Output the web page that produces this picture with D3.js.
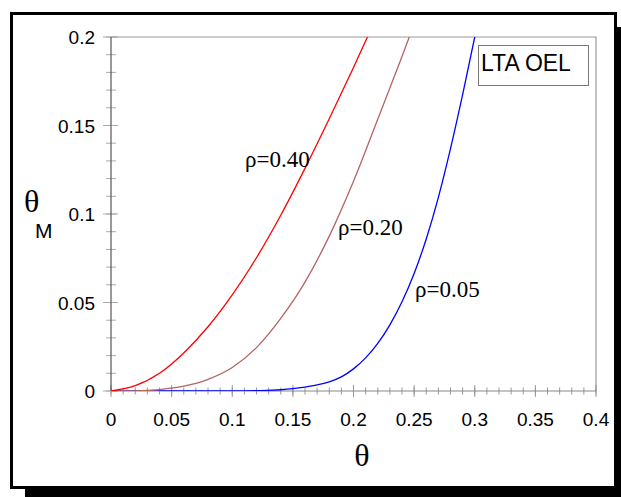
<!DOCTYPE html>
<meta charset="utf-8">
<script src="https://d3js.org/d3.v7.min.js"></script>
<style>
  body { margin: 0; background: #fff; }
</style>
<div id="my_dataviz"></div>
<script>

// curve data: theta vs theta_M for each rho
var thetaRed   = [0, 0.02, 0.04, 0.06, 0.08, 0.10, 0.12, 0.14, 0.16, 0.18, 0.20, 0.2115];
var thetaMRed  = [0, 0.003, 0.010, 0.0215, 0.0363, 0.0543, 0.0753, 0.0993, 0.1258, 0.1538, 0.1828, 0.2];

var thetaBrown  = [0, 0.02, 0.04, 0.06, 0.08, 0.10, 0.12, 0.14, 0.16, 0.18, 0.20, 0.22, 0.24, 0.246];
var thetaMBrown = [0, 0.0001, 0.0008, 0.0027, 0.0066, 0.0133, 0.0245, 0.041, 0.0615, 0.0875, 0.1185, 0.1535, 0.189, 0.2];

var thetaBlue  = [0, 0.10, 0.12, 0.14, 0.15, 0.16, 0.17, 0.18, 0.19, 0.20, 0.21, 0.22, 0.23, 0.24, 0.25, 0.26, 0.27, 0.28, 0.29, 0.30];
var thetaMBlue = [0, 0, 0.0002, 0.0007, 0.0013, 0.0022, 0.0034, 0.0052, 0.008, 0.0125, 0.0187, 0.0269, 0.0374, 0.0504, 0.0664, 0.0859, 0.1094, 0.1369, 0.1674, 0.2];

var seriesLabels = ["\u03c1=0.40", "\u03c1=0.20", "\u03c1=0.05"];
var xTicks = [0, 0.05, 0.1, 0.15, 0.2, 0.25, 0.3, 0.35, 0.4];
var yTicks = [0, 0.05, 0.1, 0.15, 0.2];
var legendText = "LTA OEL";

var SANS = "'Liberation Sans', Arial, sans-serif";
var SERIF = "'Liberation Serif', 'Times New Roman', serif";

var W = 621, H = 497;
var pLeft = 111, pRight = 596, pTop = 37, pBottom = 391;

var svg = d3.select("#my_dataviz")
  .append("svg")
    .attr("width", W)
    .attr("height", H);

// shadow + frame
svg.append("rect")
  .attr("x", 25).attr("y", 27)
  .attr("width", 600).attr("height", 475)
  .attr("fill", "#000");
svg.append("rect")
  .attr("x", 11.5).attr("y", 13.5)
  .attr("width", 604).attr("height", 474)
  .attr("fill", "#fff")
  .attr("stroke", "#000")
  .attr("stroke-width", 3);

var x = d3.scaleLinear().domain([0, 0.4]).range([pLeft, pRight]);
var y = d3.scaleLinear().domain([0, 0.2]).range([pBottom, pTop]);

// top and right border of the plot
svg.append("path")
  .attr("d", "M" + pLeft + "," + pTop + "H" + pRight + "V" + pBottom)
  .attr("fill", "none")
  .attr("stroke", "#999")
  .attr("stroke-width", 1.2);

// minor ticks (crossing the axes)
var xMinor = d3.range(0, 41).map(function(i) { return i / 100; });
var yMinor = d3.range(0, 21).map(function(i) { return i / 100; });

svg.selectAll(".xminor")
  .data(xMinor)
  .enter().append("line")
    .attr("x1", function(d) { return x(d); })
    .attr("x2", function(d) { return x(d); })
    .attr("y1", pBottom - 3.5)
    .attr("y2", pBottom + 3.5)
    .attr("stroke", "#999");
svg.selectAll(".xmajor")
  .data(xTicks)
  .enter().append("line")
    .attr("x1", function(d) { return x(d); })
    .attr("x2", function(d) { return x(d); })
    .attr("y1", pBottom - 6)
    .attr("y2", pBottom + 6)
    .attr("stroke", "#999");

svg.selectAll(".yminor")
  .data(yMinor)
  .enter().append("line")
    .attr("y1", function(d) { return y(d); })
    .attr("y2", function(d) { return y(d); })
    .attr("x1", pLeft - 5)
    .attr("x2", pLeft + 5)
    .attr("stroke", "#aaa");
svg.selectAll(".ymajor")
  .data(yTicks)
  .enter().append("line")
    .attr("y1", function(d) { return y(d); })
    .attr("y2", function(d) { return y(d); })
    .attr("x1", pLeft - 8)
    .attr("x2", pLeft + 7)
    .attr("stroke", "#aaa");

// axis lines
svg.append("line")
  .attr("x1", pLeft).attr("x2", pRight)
  .attr("y1", pBottom).attr("y2", pBottom)
  .attr("stroke", "#888").attr("stroke-width", 1.2);
svg.append("line")
  .attr("x1", pLeft).attr("x2", pLeft)
  .attr("y1", pTop).attr("y2", pBottom)
  .attr("stroke", "#555").attr("stroke-width", 1.2);

// tick labels
svg.selectAll(".xlab")
  .data(xTicks)
  .enter().append("text")
    .attr("x", function(d) { return x(d); })
    .attr("y", pBottom + 35)
    .attr("text-anchor", "middle")
    .style("font-family", SANS)
    .style("font-size", "19px")
    .text(function(d) { return d; });

svg.selectAll(".ylab")
  .data(yTicks)
  .enter().append("text")
    .attr("x", 95)
    .attr("y", function(d) { return y(d) + 7; })
    .attr("text-anchor", "end")
    .style("font-family", SANS)
    .style("font-size", "19px")
    .text(function(d) { return d; });

// axis titles
svg.append("text")
  .attr("x", 362).attr("y", 466)
  .attr("text-anchor", "middle")
  .style("font-family", SERIF)
  .style("font-size", "32px")
  .text("\u03b8");
svg.append("text")
  .attr("x", 24).attr("y", 212)
  .style("font-family", SERIF)
  .style("font-size", "32px")
  .text("\u03b8");
svg.append("text")
  .attr("x", 35).attr("y", 238)
  .style("font-family", SANS)
  .style("font-size", "21px")
  .text("M");

// curves
svg.append("clipPath").attr("id", "plotclip")
  .append("rect")
    .attr("x", pLeft).attr("y", pTop)
    .attr("width", pRight - pLeft).attr("height", pBottom - pTop);

var line = d3.line()
  .x(function(d) { return x(d[0]); })
  .y(function(d) { return y(d[1]); })
  .curve(d3.curveMonotoneX);

var series = [
  { t: thetaBlue, m: thetaMBlue, color: "#0000ff" },
  { t: thetaBrown, m: thetaMBrown, color: "#b46464" },
  { t: thetaRed, m: thetaMRed, color: "#ff0000" }
];

series.forEach(function(s) {
  svg.append("path")
    .datum(d3.zip(s.t, s.m))
    .attr("clip-path", "url(#plotclip)")
    .attr("fill", "none")
    .attr("stroke", s.color)
    .attr("stroke-width", 1.3)
    .attr("d", line);
});

// curve labels
var labelPos = [[245, 167], [338, 235], [415, 297]];
svg.selectAll(".clab")
  .data(seriesLabels)
  .enter().append("text")
    .attr("x", function(d, i) { return labelPos[i][0]; })
    .attr("y", function(d, i) { return labelPos[i][1]; })
    .style("font-family", SERIF)
    .style("font-size", "23px")
    .text(function(d) { return d; });

// legend box
svg.append("rect")
  .attr("x", 478.5).attr("y", 45.5)
  .attr("width", 110).attr("height", 40)
  .attr("fill", "#fff")
  .attr("stroke", "#777");
svg.append("text")
  .attr("x", 481).attr("y", 71)
  .style("font-family", SANS)
  .style("font-size", "23px")
  .text(legendText);

</script>
